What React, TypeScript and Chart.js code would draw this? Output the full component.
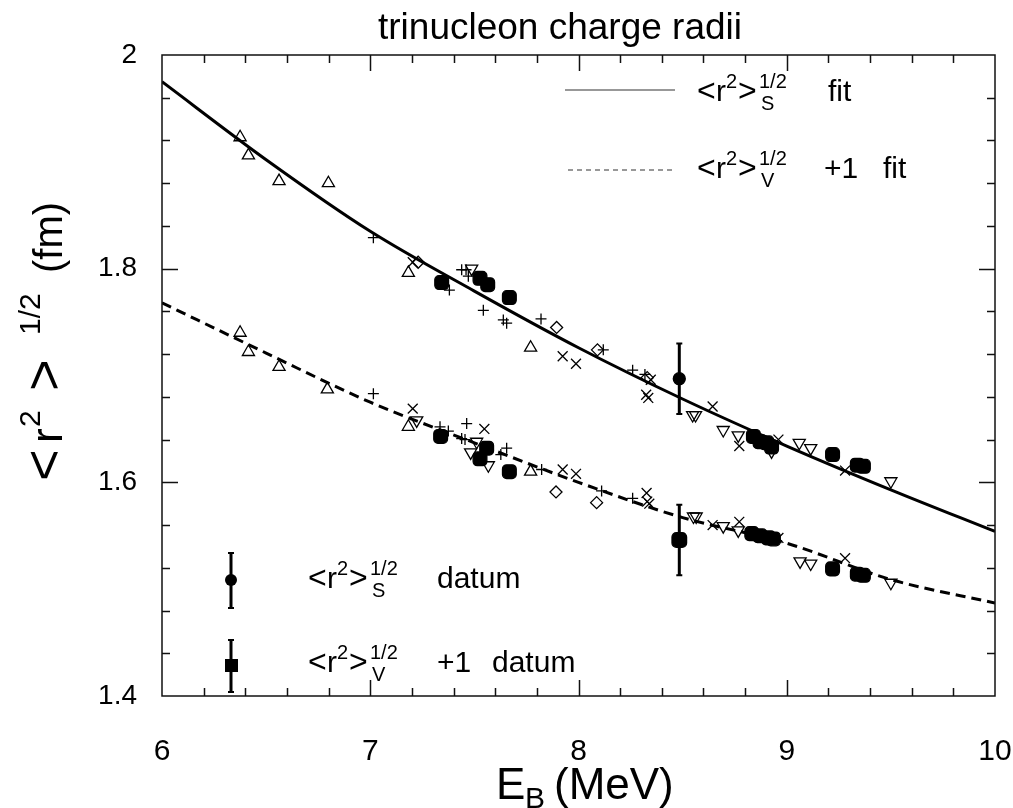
import { useEffect, useRef } from 'react';
import { Chart, registerables } from 'chart.js';

Chart.register(...registerables);

const FONT = '"Liberation Sans", Arial, Helvetica, sans-serif';

// axis ticks
const X_TICKS = [6, 7, 8, 9, 10];
const Y_TICKS = [1.4, 1.6, 1.8, 2.0];

// fit curves
const FIT_E = [6, 6.5, 7, 7.5, 8, 8.5, 9, 9.5, 10];
const FIT_S = [1.975, 1.902, 1.835, 1.779, 1.726, 1.678, 1.634, 1.593, 1.554];
const FIT_V = [1.768, 1.721, 1.675, 1.637, 1.6, 1.567, 1.543, 1.509, 1.487];

type Pt = [number, number];

// scalar radius (upper group)
const TRI_UP_S: Pt[] = [[6.375, 1.923], [6.415, 1.906], [6.562, 1.882], [6.799, 1.880], [7.183, 1.796], [7.770, 1.726]];
const TRI_DN_S: Pt[] = [[7.487, 1.800], [8.548, 1.663], [8.562, 1.663], [8.695, 1.649], [8.767, 1.644], [8.927, 1.629], [9.060, 1.637], [9.115, 1.632], [9.500, 1.601]];
const PLUS_S: Pt[] = [[7.015, 1.829], [7.439, 1.799], [7.460, 1.799], [7.471, 1.793], [7.380, 1.780], [7.543, 1.761], [7.639, 1.752], [7.655, 1.749], [7.820, 1.753], [8.119, 1.724], [8.260, 1.705], [8.319, 1.701]];
const CROSS_S: Pt[] = [[7.204, 1.806], [7.924, 1.718], [7.988, 1.711], [8.325, 1.682], [8.335, 1.679], [8.347, 1.696], [8.644, 1.671], [8.772, 1.634], [8.960, 1.640], [9.280, 1.611]];
const DIAM_S: Pt[] = [[7.230, 1.806], [7.895, 1.745], [8.091, 1.724], [8.330, 1.698]];
const SQ_S: Pt[] = [[7.343, 1.787], [7.527, 1.791], [7.564, 1.785], [7.668, 1.773], [8.840, 1.643], [8.872, 1.638], [8.904, 1.637], [8.927, 1.633], [9.220, 1.626], [9.339, 1.616], [9.368, 1.615]];

// vector radius + 1 (lower group)
const TRI_UP_V: Pt[] = [[6.375, 1.740], [6.415, 1.722], [6.562, 1.708], [6.794, 1.687], [7.183, 1.652], [7.770, 1.610]];
const TRI_DN_V: Pt[] = [[7.223, 1.658], [7.482, 1.628], [7.511, 1.638], [7.567, 1.616], [8.552, 1.568], [8.565, 1.568], [8.695, 1.559], [8.767, 1.555], [9.064, 1.526], [9.115, 1.524], [9.500, 1.506]];
const PLUS_V: Pt[] = [[7.015, 1.683], [7.335, 1.652], [7.375, 1.648], [7.463, 1.655], [7.439, 1.641], [7.455, 1.640], [7.655, 1.632], [7.627, 1.626], [7.823, 1.612], [8.111, 1.592], [8.260, 1.585]];
const CROSS_V: Pt[] = [[7.204, 1.669], [7.548, 1.650], [7.924, 1.612], [7.988, 1.608], [8.327, 1.590], [8.330, 1.582], [8.340, 1.580], [8.644, 1.560], [8.772, 1.563], [8.960, 1.548], [9.280, 1.529]];
const DIAM_V: Pt[] = [[7.892, 1.591], [8.087, 1.581]];
const SQ_V: Pt[] = [[7.338, 1.643], [7.527, 1.622], [7.559, 1.632], [7.668, 1.610], [8.832, 1.552], [8.872, 1.550], [8.912, 1.548], [8.936, 1.547], [9.220, 1.519], [9.339, 1.514], [9.368, 1.513]];

// measured data with error bars
const DATUM_E = [8.484];
const DATUM_S = [1.697];
const DATUM_V = [1.546];
const DATUM_ERR = [0.033];

const toXY = (a: Pt[]) => a.map(([x, y]) => ({ x, y }));

type Run = { t: string; size: number; dx: number; dy?: number };
function drawRuns(ctx: CanvasRenderingContext2D, items: Run[], x0: number, y0: number) {
  for (const r of items) {
    ctx.font = `${r.size}px ${FONT}`;
    ctx.fillText(r.t, x0 + r.dx, y0 + (r.dy ?? 0));
  }
}
function radiusRuns(sub: string): Run[] {
  return [
    { t: '<', size: 32, dx: 0 },
    { t: 'r', size: 30, dx: 19 },
    { t: '2', size: 20, dx: 29, dy: -13 },
    { t: '>', size: 32, dx: 41 },
    { t: '1/2', size: 20, dx: 62, dy: -13 },
    { t: sub, size: 20, dx: 64, dy: 9 },
  ];
}

function errBar(ctx: CanvasRenderingContext2D, x: number, y1: number, y2: number) {
  ctx.lineWidth = 3;
  ctx.beginPath();
  ctx.moveTo(x, y1);
  ctx.lineTo(x, y2);
  ctx.stroke();
  ctx.lineWidth = 2;
  ctx.beginPath();
  ctx.moveTo(x - 3, y1);
  ctx.lineTo(x + 3, y1);
  ctx.moveTo(x - 3, y2);
  ctx.lineTo(x + 3, y2);
  ctx.stroke();
}

const customPlugin = {
  id: 'custom',
  beforeDatasetsDraw(chart: any) {
    const { ctx, scales } = chart;
    const x = scales.x;
    const y = scales.y;
    ctx.save();
    ctx.strokeStyle = '#000';
    DATUM_E.forEach((e, i) => {
      const px = x.getPixelForValue(e);
      errBar(ctx, px, y.getPixelForValue(DATUM_S[i] + DATUM_ERR[i]), y.getPixelForValue(DATUM_S[i] - DATUM_ERR[i]));
      errBar(ctx, px, y.getPixelForValue(DATUM_V[i] + DATUM_ERR[i]), y.getPixelForValue(DATUM_V[i] - DATUM_ERR[i]));
    });
    ctx.restore();
  },
  afterDraw(chart: any) {
    const { ctx, chartArea: ca, scales } = chart;
    const x = scales.x;
    const y = scales.y;
    ctx.save();
    // frame
    ctx.strokeStyle = '#111';
    ctx.lineWidth = 1.5;
    ctx.strokeRect(ca.left, ca.top, ca.right - ca.left, ca.bottom - ca.top);
    // inward ticks
    ctx.beginPath();
    for (let i = 1; i < 20; i++) {
      const v = 6 + i * 0.2;
      const px = Math.round(x.getPixelForValue(v)) + 0.5;
      const len = i % 5 === 0 ? 16 : 8;
      ctx.moveTo(px, ca.bottom);
      ctx.lineTo(px, ca.bottom - len);
      ctx.moveTo(px, ca.top);
      ctx.lineTo(px, ca.top + len);
    }
    for (let i = 1; i < 15; i++) {
      const v = 1.4 + i * 0.04;
      const py = Math.round(y.getPixelForValue(v)) + 0.5;
      const len = i % 5 === 0 ? 16 : 8;
      ctx.moveTo(ca.left, py);
      ctx.lineTo(ca.left + len, py);
      ctx.moveTo(ca.right, py);
      ctx.lineTo(ca.right - len, py);
    }
    ctx.stroke();

    ctx.fillStyle = '#000';
    ctx.textBaseline = 'alphabetic';
    // title
    ctx.textAlign = 'center';
    ctx.font = `37px ${FONT}`;
    ctx.fillText('trinucleon charge radii', 560, 39);
    ctx.textAlign = 'left';

    // x axis title
    drawRuns(ctx, [
      { t: 'E', size: 44, dx: 0 },
      { t: 'B', size: 30, dx: 29, dy: 9 },
      { t: '(MeV)', size: 44, dx: 58 },
    ], 496, 799);

    // y axis title (rotated)
    ctx.save();
    ctx.translate(62, 481);
    ctx.rotate(-Math.PI / 2);
    drawRuns(ctx, [
      { t: '<', size: 54, dx: 0 },
      { t: 'r', size: 44, dx: 38 },
      { t: '2', size: 30, dx: 54, dy: -22 },
      { t: '>', size: 54, dx: 90 },
      { t: '1/2', size: 30, dx: 146, dy: -22 },
      { t: '(fm)', size: 40, dx: 208 },
    ], 0, 0);
    ctx.restore();

    // upper legend (fits)
    ctx.strokeStyle = '#333';
    ctx.lineWidth = 1.2;
    ctx.beginPath();
    ctx.moveTo(565, 90);
    ctx.lineTo(675, 90);
    ctx.stroke();
    ctx.setLineDash([5, 4]);
    ctx.beginPath();
    ctx.moveTo(568, 170);
    ctx.lineTo(676, 170);
    ctx.stroke();
    ctx.setLineDash([]);
    drawRuns(ctx, [...radiusRuns('S'), { t: 'fit', size: 30, dx: 131 }], 697, 101);
    drawRuns(ctx, [...radiusRuns('V'), { t: '+1', size: 30, dx: 127 }, { t: 'fit', size: 30, dx: 186 }], 697, 178);

    // lower legend (data)
    ctx.strokeStyle = '#000';
    errBar(ctx, 231, 553, 608);
    ctx.beginPath();
    ctx.arc(231, 580, 6, 0, Math.PI * 2);
    ctx.fill();
    errBar(ctx, 231, 640, 692);
    ctx.fillRect(225, 659, 13, 13);
    drawRuns(ctx, [...radiusRuns('S'), { t: 'datum', size: 30, dx: 129 }], 308, 588);
    drawRuns(ctx, [...radiusRuns('V'), { t: '+1', size: 30, dx: 129 }, { t: 'datum', size: 30, dx: 184 }], 308, 672);
    ctx.restore();
  },
};

function scatterSet(data: Pt[], style: string, radius: number, filled: boolean, rotation = 0) {
  return {
    type: 'scatter' as const,
    data: toXY(data),
    showLine: false,
    pointStyle: style,
    pointRadius: radius,
    pointRotation: rotation,
    pointBorderColor: '#000',
    pointBackgroundColor: filled ? '#000' : 'rgba(0,0,0,0)',
    pointBorderWidth: 1.3,
  };
}

export default function App() {
  const ref = useRef<HTMLCanvasElement | null>(null);
  useEffect(() => {
    if (!ref.current) return;
    const fitS = FIT_E.map((e, i) => ({ x: e, y: FIT_S[i] }));
    const fitV = FIT_E.map((e, i) => ({ x: e, y: FIT_V[i] }));
    const chart = new Chart(ref.current, {
      type: 'line',
      data: {
        datasets: [
          {
            type: 'line',
            data: fitS,
            borderColor: '#000',
            borderWidth: 3,
            pointRadius: 0,
            cubicInterpolationMode: 'monotone',
            fill: false,
          },
          {
            type: 'line',
            data: fitV,
            borderColor: '#000',
            borderWidth: 3,
            borderDash: [10, 6],
            pointRadius: 0,
            cubicInterpolationMode: 'monotone',
            fill: false,
          },
          scatterSet(TRI_UP_S, 'triangle', 7, false),
          scatterSet(TRI_UP_V, 'triangle', 7, false),
          scatterSet(TRI_DN_S, 'triangle', 7, false, 180),
          scatterSet(TRI_DN_V, 'triangle', 7, false, 180),
          scatterSet(PLUS_S, 'cross', 5.5, false),
          scatterSet(PLUS_V, 'cross', 5.5, false),
          scatterSet(CROSS_S, 'crossRot', 7, false),
          scatterSet(CROSS_V, 'crossRot', 7, false),
          scatterSet(DIAM_S, 'rectRot', 6, false),
          scatterSet(DIAM_V, 'rectRot', 6, false),
          scatterSet(SQ_S, 'rectRounded', 8, true),
          scatterSet(SQ_V, 'rectRounded', 8, true),
          scatterSet(DATUM_E.map((e, i) => [e, DATUM_S[i]] as Pt), 'circle', 6, true),
          scatterSet(DATUM_E.map((e, i) => [e, DATUM_V[i]] as Pt), 'rectRounded', 8.5, true),
        ] as any,
      },
      options: {
        animation: false,
        responsive: false,
        maintainAspectRatio: false,
        layout: { padding: { top: 55, right: 18, left: 0, bottom: 0 } },
        plugins: {
          legend: { display: false },
          tooltip: { enabled: false },
          title: { display: false },
        },
        scales: {
          x: {
            type: 'linear',
            min: 6,
            max: 10,
            afterBuildTicks: (s: any) => {
              s.ticks = X_TICKS.map((v) => ({ value: v }));
            },
            afterFit: (s: any) => {
              s.height = 112;
              s.paddingLeft = 0;
              s.paddingRight = 0;
            },
            grid: { display: false, drawTicks: false },
            border: { display: false },
            ticks: {
              color: '#000',
              font: { family: FONT, size: 30 },
              padding: 38,
              maxRotation: 0,
              autoSkip: false,
              callback: (v: any) => String(v),
            },
          },
          y: {
            type: 'linear',
            min: 1.4,
            max: 2.0,
            afterBuildTicks: (s: any) => {
              s.ticks = Y_TICKS.map((v) => ({ value: v }));
            },
            afterFit: (s: any) => {
              s.width = 162;
              s.paddingTop = 0;
              s.paddingBottom = 0;
            },
            grid: { display: false, drawTicks: false },
            border: { display: false },
            ticks: {
              color: '#000',
              font: { family: FONT, size: 28 },
              padding: 25,
              autoSkip: false,
              callback: (v: any) => String(+Number(v).toFixed(1)),
            },
          },
        },
      } as any,
      plugins: [customPlugin],
    });
    return () => chart.destroy();
  }, []);
  return (
    <div style={{ position: 'absolute', left: 0, top: 0, width: 1013, height: 808, background: '#fff' }}>
      <canvas ref={ref} width={1013} height={808} style={{ display: 'block', width: 1013, height: 808 }} />
    </div>
  );
}
